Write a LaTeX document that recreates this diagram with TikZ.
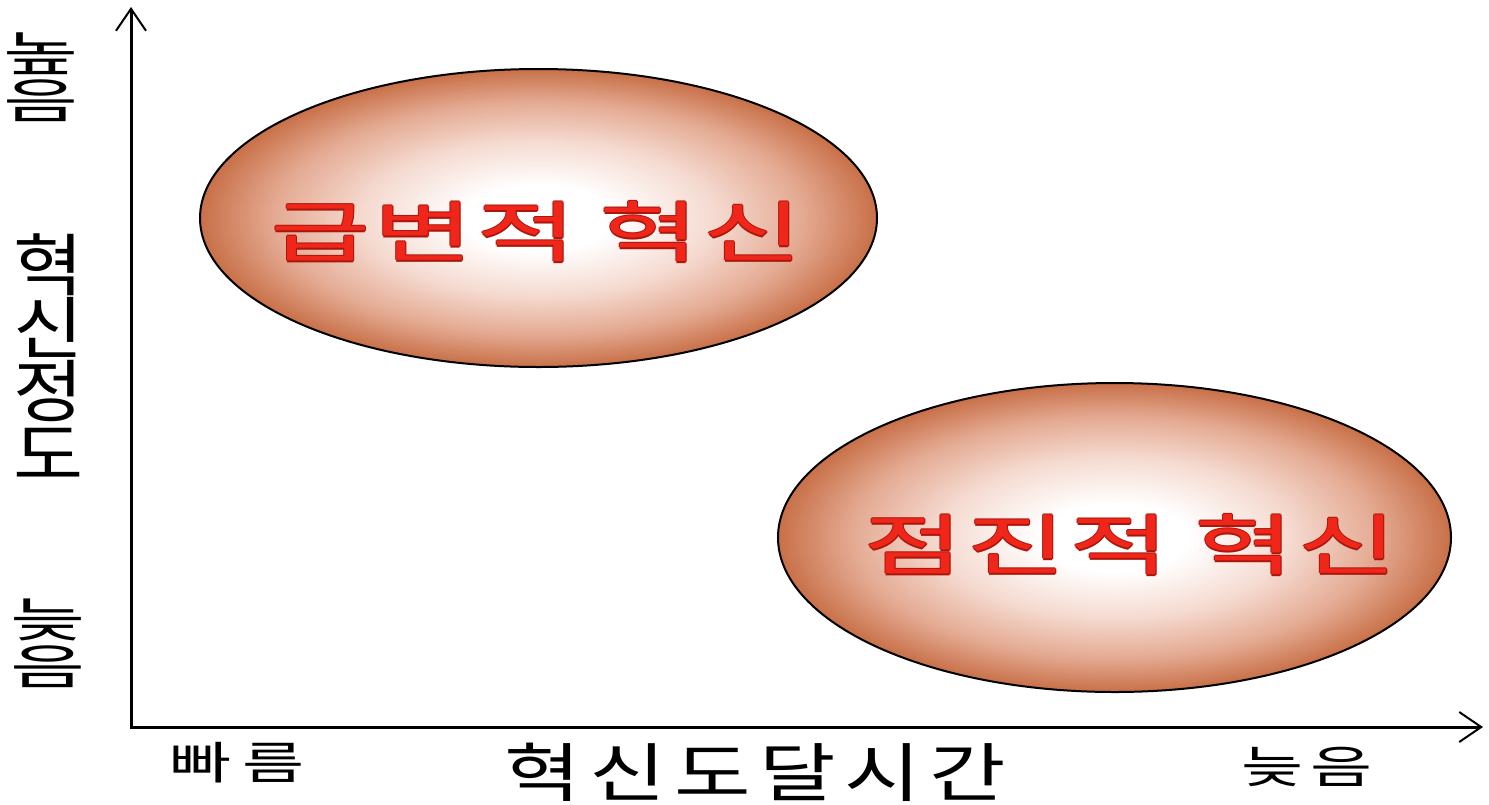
\documentclass[tikz,border=0pt]{standalone}
\usepackage{fontspec}
\newfontfamily\krA{Noto Sans CJK KR}
\usetikzlibrary{arrows.meta,shapes.geometric}
\definecolor{shE}{RGB}{200,112,72}
\definecolor{shM}{RGB}{228,170,146}
\definecolor{shL}{RGB}{245,218,208}
\definecolor{txtred}{RGB}{240,38,26}
\definecolor{txtdark}{RGB}{170,22,12}
\pgfdeclareradialshading{ballshade}{\pgfpoint{0bp}{0bp}}{color(0bp)=(white); color(5.5bp)=(white); color(13bp)=(shL); color(19.5bp)=(shM); color(25bp)=(shE); color(50bp)=(shE)}
\newcommand\gl[3]{\makebox[#1pt]{\scalebox{#2}[1]{#3}}}
\newcommand\kg[1]{\hspace{#1pt}}
\newcommand\vstack[3]{\vbox{\baselineskip=#1pt\hbox{#2}\hbox{#3}}}
\tikzset{
  blob/.style={ellipse, draw=black, line width=2pt, shading=ballshade, inner sep=0pt},
  redtxt/.style={font=\krA\fontsize{66}{66}\selectfont, text=txtred, inner sep=0pt},
  redshadow/.style={redtxt, text=txtdark},
  axisline/.style={line width=3pt, {Straight Barb[length=22pt,width=30pt,line width=2pt]}-{Straight Barb[length=22pt,width=30pt,line width=2pt]}},
  lbl/.style={font=\krA\fontsize{45}{45}\selectfont, inner sep=0pt},
  vlbl/.style={font=\krA\fontsize{48}{48}\selectfont, inner sep=0pt},
  biglbl/.style={font=\krA\fontsize{64}{64}\selectfont, inner sep=0pt},
  vbiglbl/.style={font=\krA\fontsize{68}{63}\selectfont, inner sep=0pt}
}
\newcommand\tA{\gl{103}{1.65}{급}\gl{103}{1.65}{변}\gl{103}{1.65}{적}\kg{20}\gl{103}{1.65}{혁}\gl{103}{1.65}{신}}
\newcommand\tB{\gl{103}{1.65}{점}\gl{103}{1.65}{진}\gl{103}{1.65}{적}\kg{22}\gl{103}{1.65}{혁}\gl{103}{1.65}{신}}
\begin{document}
\begin{tikzpicture}[x=1pt,y=-1pt]
\useasboundingbox (0,0) rectangle (1489,804);
% ellipses
\node[blob, minimum width=677pt, minimum height=298pt] (e1) at (538.5,218) {};
\node[blob, minimum width=673pt, minimum height=309pt] (e2) at (1114.5,537.5) {};
% ellipse texts (dark rim, then red face)
\foreach \dx/\dy in {-1.3/0,1.3/0,0/-1.3,0/1.3,1/1} {
  \node[redshadow] at (536.5+\dx,232+\dy) {\tA};
  \node[redshadow] at (1130.5+\dx,545+\dy) {\tB};
}
\node[redtxt] (t1) at (536.5,232) {\tA};
\node[redtxt] (t2) at (1130.5,545) {\tB};
% axes
\coordinate (ytip) at (131,7);
\coordinate (O) at (131,727);
\coordinate (xtip) at (1483,727);
\draw[axisline] (ytip) -- (O) -- (xtip);
% y labels
\node[vlbl] (yhigh) at (41,77) {\scalebox{1.7}[1]{\vstack{47}{높}{음}}};
\node[vbiglbl] (ytitle) at (49,357) {\scalebox{1.12}[1]{\vbox{\baselineskip=63pt\hbox{혁}\hbox{신}\hbox{정}\hbox{도}}}};
\node[vlbl] (ylow) at (48,643) {\scalebox{1.7}[1]{\vstack{47}{늦}{음}}};
% x labels
\node[lbl] (xfast) at (237.5,763) {\gl{73}{1.5}{빠}\gl{73}{1.5}{름}};
\node[biglbl] (xtitle) at (755,772) {\gl{85}{1.3}{혁}\gl{85}{1.3}{신}\gl{85}{1.3}{도}\gl{85}{1.3}{달}\gl{85}{1.3}{시}\gl{85}{1.3}{간}};
\node[lbl] (xslow) at (1307,767) {\gl{69}{1.5}{늦}\gl{69}{1.5}{음}};
\end{tikzpicture}
\end{document}
